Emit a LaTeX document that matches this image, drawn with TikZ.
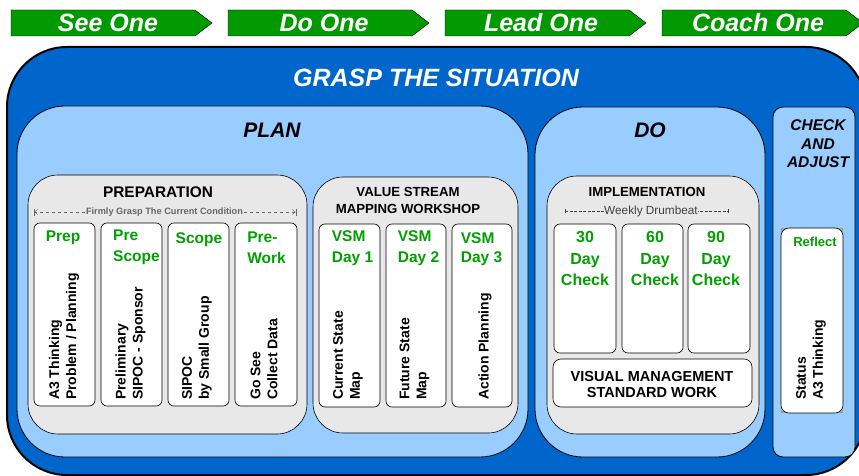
\documentclass[tikz,border=0pt]{standalone}
\usepackage{fontspec}
\setmainfont{Liberation Sans}
\usetikzlibrary{arrows.meta}
\definecolor{grasp}{HTML}{0066CC}
\definecolor{phase}{HTML}{99CCFF}
\definecolor{stage}{HTML}{E8E8E8}
\definecolor{arrowgreen}{HTML}{009900}
\definecolor{labelgreen}{HTML}{00A000}
\begin{document}
\begin{tikzpicture}[x=1pt,y=-1pt,
    hdr/.style={text=white,font=\bfseries\itshape\fontsize{25}{30}\selectfont},
    phasebox/.style={draw,line width=0.8pt,fill=phase,rounded corners=48pt},
    stagebox/.style={draw,line width=0.6pt,fill=stage,rounded corners=30pt},
    card/.style={draw,line width=0.6pt,fill=white,rounded corners=6pt},
    phasetitle/.style={font=\bfseries\itshape\fontsize{21}{25}\selectfont},
    stagetitle/.style={font=\bfseries\fontsize{13.2}{17}\selectfont,align=center},
    daylabel/.style={text=labelgreen,font=\bfseries\fontsize{15.5}{21}\selectfont},
    vtext/.style={rotate=90,anchor=west,align=left,inner sep=0pt,font=\bfseries\fontsize{14}{17}\selectfont}]
    \useasboundingbox (0,0) rectangle (859,476);

    % see one / do one / lead one / coach one
    \draw[fill=arrowgreen] (11,10)--(195,10)--(212,23)--(195,36)--(11,36)--cycle;
    \draw[fill=arrowgreen] (228,10)--(412,10)--(429,23)--(412,36)--(228,36)--cycle;
    \draw[fill=arrowgreen] (445,10)--(629,10)--(646,23)--(629,36)--(445,36)--cycle;
    \draw[fill=arrowgreen] (662,10)--(846,10)--(863,23)--(846,36)--(662,36)--cycle;
    \node[hdr] (see) at (108,23) {See One};
    \node[hdr] (doone) at (324,23) {Do One};
    \node[hdr] (lead) at (541,23) {Lead One};
    \node[hdr] (coach) at (758,23) {Coach One};

    \draw[line width=2pt,fill=grasp,rounded corners=60pt] (7,47) rectangle (866,475);
    \node[hdr] (grasp) at (436,78) {GRASP THE SITUATION};

    % plan, do, check
    \draw[phasebox] (17,106) rectangle (528,457);
    \draw[phasebox] (535,107) rectangle (765,457);
    \draw[phasebox,rounded corners=10pt] (773,107) rectangle (855,457);
    \node[phasetitle] (plan) at (272,130) {PLAN};
    \node[phasetitle] (do) at (650,130) {DO};
    \node[align=center,font=\bfseries\itshape\fontsize{15.5}{18.5}\selectfont] (check) at (818,144) {CHECK\\AND\\ADJUST};

    % preparation
    \draw[stagebox] (28,175) rectangle (307,434);
    \node[stagetitle,font=\bfseries\fontsize{15.4}{18}\selectfont] (prep) at (158,192) {PREPARATION};
    \coordinate (fgl) at (34,212);
    \coordinate (fgr) at (296,212);
    \draw[gray!80!black,dashed,{Bar[width=7pt]Straight Barb[length=3pt,width=5pt]}-{Straight Barb[length=3pt,width=5pt]Bar[width=7pt]}] (fgl)--(fgr);
    \node[fill=stage,inner sep=1.5pt,text=gray!80!black,font=\bfseries\fontsize{9.2}{11}\selectfont] (firmly) at (164.5,212) {Firmly Grasp The Current Condition};
    \draw[card] (34,223) rectangle (95,406);
    \draw[card] (101,223) rectangle (162,406);
    \draw[card] (168,223) rectangle (229,406);
    \draw[card] (235,223) rectangle (297,406);
    \node[daylabel] (prep1) at (63,238) {Prep};
    \node[daylabel,align=left] (prep2) at (136.5,247.5) {Pre\\Scope};
    \node[daylabel] (prep3) at (199,240) {Scope};
    \node[daylabel,align=left] (prep4) at (266.5,247.5) {Pre-\\Work};
    \node[vtext] (a3) at (64,400) {A3 Thinking\\Problem / Planning};
    \node[vtext] (prelim) at (130.5,400) {Preliminary\\SIPOC - Sponsor};
    \node[vtext] (sipoc) at (197,400) {SIPOC\\by Small Group};
    \node[vtext] (gosee) at (264,400) {Go See\\Collect Data};

    % value stream mapping
    \draw[stagebox] (313,177) rectangle (518,433);
    \node[stagetitle] (vsm) at (408,200.5) {VALUE STREAM\\MAPPING WORKSHOP};
    \draw[card] (319,224) rectangle (380,407);
    \draw[card] (386,224) rectangle (446,407);
    \draw[card] (452,224) rectangle (512,407);
    \node[daylabel,align=left] (vsm1) at (352.5,248.5) {VSM\\Day 1};
    \node[daylabel,align=left] (vsm2) at (418.5,248.5) {VSM\\Day 2};
    \node[daylabel,align=left,font=\bfseries\fontsize{15.5}{18.5}\selectfont] (vsm3) at (481.5,249) {VSM\\Day 3};
    \node[vtext] (csm) at (348,400) {Current State\\Map};
    \node[vtext] (fsm) at (414.5,400) {Future State\\Map};
    \node[vtext] (actplan) at (485,400) {Action Planning};

    % implementation
    \draw[stagebox] (547,176) rectangle (759,434);
    \node[stagetitle] (impl) at (647,192) {IMPLEMENTATION};
    \coordinate (wdl) at (565,211);
    \coordinate (wdr) at (728,211);
    \draw[black!75,dash pattern=on 3pt off 1.5pt,|-|] (wdl)--(wdr);
    \node[fill=stage,inner sep=0.5pt,text=black!75,font=\fontsize{11.8}{14}\selectfont] (drum) at (651,211) {Weekly Drumbeat};
    \draw[card] (554,224) rectangle (616,353);
    \draw[card] (622,224) rectangle (683,353);
    \draw[card] (688,224) rectangle (750,353);
    \node[daylabel,align=center,font=\bfseries\fontsize{16}{21.5}\selectfont] (day30) at (585,258.5) {30\\Day\\Check};
    \node[daylabel,align=center,font=\bfseries\fontsize{16}{21.5}\selectfont] (day60) at (655,258.5) {60\\Day\\Check};
    \node[daylabel,align=center,font=\bfseries\fontsize{16}{21.5}\selectfont] (day90) at (716,258.5) {90\\Day\\Check};
    \draw[card,rounded corners=8pt] (553,359) rectangle (752,407);
    \node[align=center,font=\bfseries\fontsize{14.5}{16}\selectfont] (visual) at (652,385) {VISUAL MANAGEMENT\\STANDARD WORK};

    % reflect
    \fill[gray!75] (781,228) rectangle (843,413);
    \draw[card,rounded corners=8pt] (781,228) rectangle (843,413);
    \node[text=labelgreen,font=\bfseries\fontsize{13}{16}\selectfont] (reflect) at (815,242) {Reflect};
    \node[vtext] (status) at (811,400) {Status\\A3 Thinking};
\end{tikzpicture}
\end{document}
